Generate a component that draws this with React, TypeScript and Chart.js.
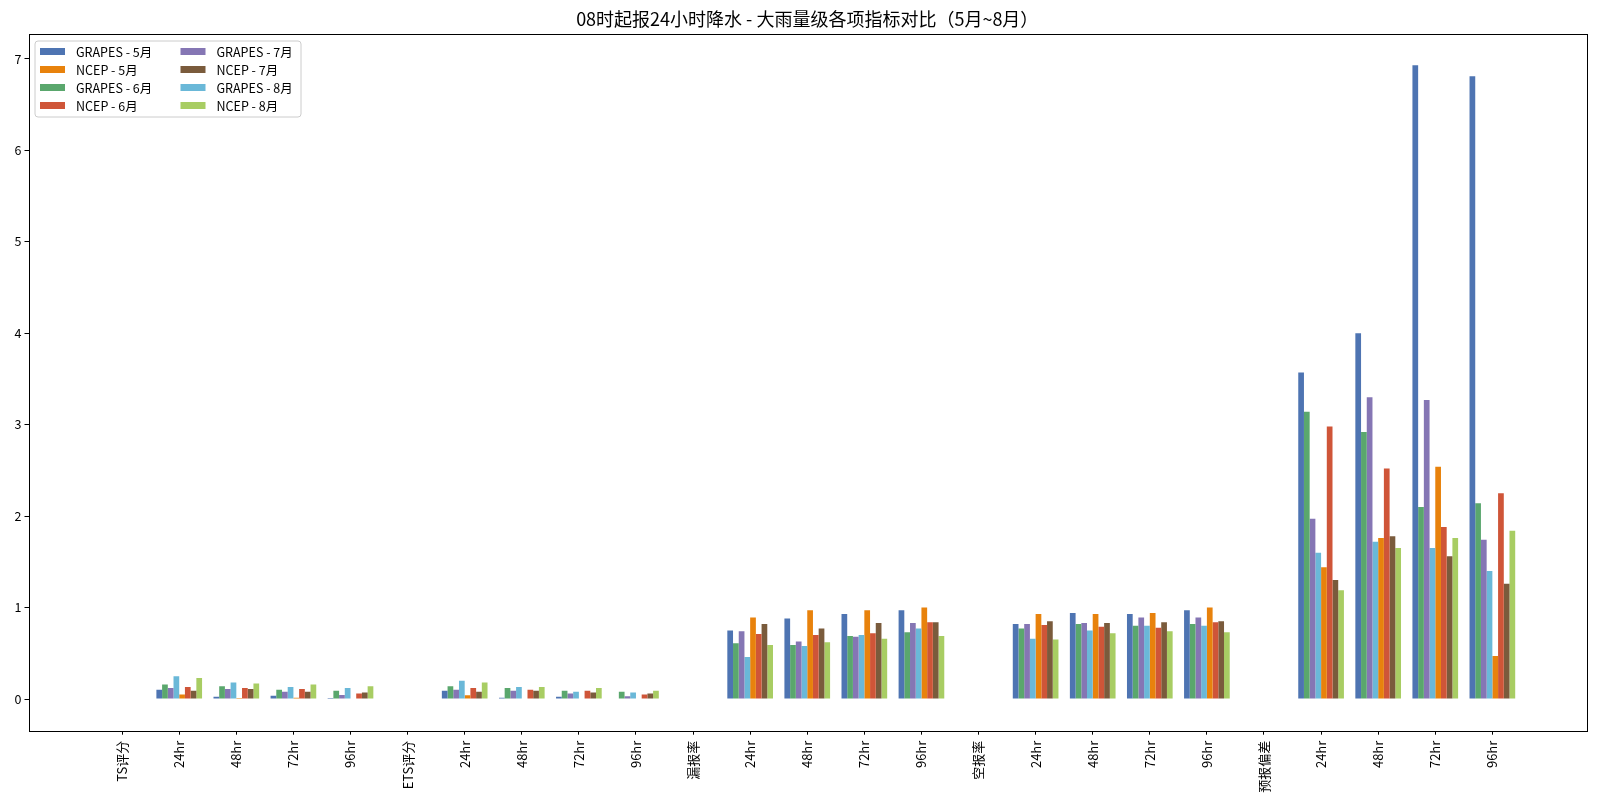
import React, { useEffect, useRef } from "react";
import { Chart, registerables } from "chart.js";

Chart.register(...registerables);

const categories = [
  "TS评分", "24hr", "48hr", "72hr", "96hr",
  "ETS评分", "24hr", "48hr", "72hr", "96hr",
  "漏报率", "24hr", "48hr", "72hr", "96hr",
  "空报率", "24hr", "48hr", "72hr", "96hr",
  "预报偏差", "24hr", "48hr", "72hr", "96hr",
];

const N = null;
const grapesMay = [N, 0.10, 0.025, 0.035, 0.01, N, 0.09, 0.015, 0.025, 0.005, N, 0.75, 0.88, 0.93, 0.97, N, 0.82, 0.94, 0.93, 0.97, N, 3.57, 4.00, 6.93, 6.81];
const grapesJun = [N, 0.16, 0.14, 0.10, 0.09, N, 0.14, 0.12, 0.09, 0.08, N, 0.61, 0.59, 0.69, 0.73, N, 0.77, 0.82, 0.80, 0.82, N, 3.14, 2.92, 2.10, 2.14];
const grapesJul = [N, 0.12, 0.11, 0.08, 0.045, N, 0.10, 0.09, 0.06, 0.03, N, 0.74, 0.63, 0.68, 0.83, N, 0.82, 0.83, 0.89, 0.89, N, 1.97, 3.30, 3.27, 1.74];
const grapesAug = [N, 0.25, 0.18, 0.13, 0.12, N, 0.20, 0.13, 0.08, 0.07, N, 0.46, 0.58, 0.70, 0.77, N, 0.66, 0.75, 0.80, 0.80, N, 1.60, 1.72, 1.65, 1.40];
const ncepMay = [N, 0.05, 0.01, 0.015, 0.0, N, 0.04, 0.005, 0.005, 0.0, N, 0.89, 0.97, 0.97, 1.00, N, 0.93, 0.93, 0.94, 1.00, N, 1.44, 1.76, 2.54, 0.47];
const ncepJun = [N, 0.13, 0.12, 0.11, 0.06, N, 0.12, 0.10, 0.09, 0.05, N, 0.71, 0.70, 0.72, 0.84, N, 0.81, 0.79, 0.78, 0.84, N, 2.98, 2.52, 1.88, 2.25];
const ncepJul = [N, 0.09, 0.11, 0.08, 0.07, N, 0.08, 0.09, 0.07, 0.06, N, 0.82, 0.77, 0.83, 0.84, N, 0.85, 0.83, 0.84, 0.85, N, 1.30, 1.78, 1.56, 1.26];
const ncepAug = [N, 0.23, 0.17, 0.16, 0.14, N, 0.18, 0.13, 0.12, 0.09, N, 0.59, 0.62, 0.66, 0.69, N, 0.65, 0.72, 0.74, 0.73, N, 1.19, 1.65, 1.76, 1.84];

const seriesLabels = ["GRAPES - 5月", "GRAPES - 6月", "GRAPES - 7月", "GRAPES - 8月", "NCEP - 5月", "NCEP - 6月", "NCEP - 7月", "NCEP - 8月"];
const seriesValues = [grapesMay, grapesJun, grapesJul, grapesAug, ncepMay, ncepJun, ncepJul, ncepAug];
const seriesColors = ["#4e74b2", "#5aa76d", "#8576b4", "#6ab8d8", "#e8820c", "#cf5538", "#7a5b3c", "#a8cd63"];
const legendOrder = ["GRAPES - 5月", "NCEP - 5月", "GRAPES - 6月", "NCEP - 6月", "GRAPES - 7月", "NCEP - 7月", "GRAPES - 8月", "NCEP - 8月"];

const yTicks = [0, 1, 2, 3, 4, 5, 6, 7];
const titleText = "08时起报24小时降水 - 大雨量级各项指标对比（5月~8月）";
const FONT = "'Noto Sans CJK SC', 'Noto Sans', sans-serif";

export default function App() {
  const ref = useRef<HTMLCanvasElement | null>(null);

  useEffect(() => {
    if (!ref.current) return;
    const datasets = seriesValues.map((vals, k) => ({
      label: seriesLabels[k],
      data: vals
        .map((v, i) => (v === null ? null : { x: i, y: v }))
        .filter((p) => p !== null),
      backgroundColor: seriesColors[k],
      borderWidth: 0,
      categoryPercentage: 0.8,
      barPercentage: 1.0,
    }));

    const framePlugin = {
      id: "frameAndLegend",
      afterDraw(chart: any) {
        const { ctx, chartArea } = chart;
        ctx.save();
        ctx.strokeStyle = "#000";
        ctx.lineWidth = 1;
        ctx.strokeRect(
          Math.round(chartArea.left) + 0.5,
          Math.round(chartArea.top) + 0.5,
          Math.round(chartArea.right - chartArea.left),
          Math.round(chartArea.bottom - chartArea.top)
        );
        // title
        ctx.fillStyle = "#000";
        ctx.font = `18px ${FONT}`;
        ctx.textAlign = "center";
        ctx.textBaseline = "middle";
        ctx.fillText(titleText, (chartArea.left + chartArea.right) / 2, 19.5);
        // legend
        const bx = 35, by = 41, bw = 266, bh = 76, r = 3;
        ctx.beginPath();
        ctx.moveTo(bx + r, by);
        ctx.lineTo(bx + bw - r, by);
        ctx.quadraticCurveTo(bx + bw, by, bx + bw, by + r);
        ctx.lineTo(bx + bw, by + bh - r);
        ctx.quadraticCurveTo(bx + bw, by + bh, bx + bw - r, by + bh);
        ctx.lineTo(bx + r, by + bh);
        ctx.quadraticCurveTo(bx, by + bh, bx, by + bh - r);
        ctx.lineTo(bx, by + r);
        ctx.quadraticCurveTo(bx, by, bx + r, by);
        ctx.closePath();
        ctx.fillStyle = "rgba(255,255,255,0.8)";
        ctx.fill();
        ctx.strokeStyle = "#cccccc";
        ctx.stroke();
        ctx.font = `12.5px ${FONT}`;
        ctx.textAlign = "left";
        legendOrder.forEach((lab, idx) => {
          const col = Math.floor(idx / 4);
          const row = idx % 4;
          const sx = col === 0 ? 40 : 180.5;
          const cy = 51.5 + row * 18;
          const k = seriesLabels.indexOf(lab);
          ctx.fillStyle = seriesColors[k];
          ctx.fillRect(sx, cy - 3.5, 25, 7);
          ctx.fillStyle = "#000";
          ctx.fillText(lab, sx + 36, cy + 0.5);
        });
        ctx.restore();
      },
    };

    const chart = new Chart(ref.current, {
      type: "bar",
      data: { datasets: datasets as any },
      options: {
        animation: false,
        responsive: false,
        maintainAspectRatio: false,
        layout: { padding: { top: 33.5, right: 12, left: 0, bottom: 0 } },
        plugins: {
          legend: { display: false },
          title: { display: false },
          tooltip: { enabled: false },
        },
        scales: {
          x: {
            type: "linear",
            min: -1.64,
            max: 25.64,
            offset: false,
            grid: { offset: false, drawOnChartArea: false, drawTicks: true, tickLength: 4, color: "#000" },
            border: { display: false },
            ticks: {
              autoSkip: false,
              minRotation: 90,
              maxRotation: 90,
              padding: 6,
              color: "#000",
              font: { family: FONT, size: 13 },
              callback: (v: any) => categories[Math.round(Number(v))] ?? "",
            },
            afterBuildTicks: (scale: any) => {
              scale.ticks = categories.map((_, i) => ({ value: i }));
            },
            afterFit: (scale: any) => {
              scale.height = 71.3;
            },
          },
          y: {
            type: "linear",
            min: -0.3465,
            max: 7.2765,
            grid: { drawOnChartArea: false, drawTicks: true, tickLength: 4, color: "#000" },
            border: { display: false },
            ticks: {
              padding: 3,
              color: "#000",
              font: { family: FONT, size: 12.5 },
              callback: (v: any) => String(v),
            },
            afterBuildTicks: (scale: any) => {
              scale.ticks = yTicks.map((v) => ({ value: v }));
            },
            afterFit: (scale: any) => {
              scale.width = 28.5;
            },
          },
        },
      } as any,
      plugins: [framePlugin],
    });
    return () => chart.destroy();
  }, []);

  return (
    <div style={{ position: "fixed", left: 0, top: 0, width: 1598, height: 802, background: "#fff" }}>
      <canvas ref={ref} width={1598} height={802} style={{ width: 1598, height: 802, display: "block" }} />
    </div>
  );
}
